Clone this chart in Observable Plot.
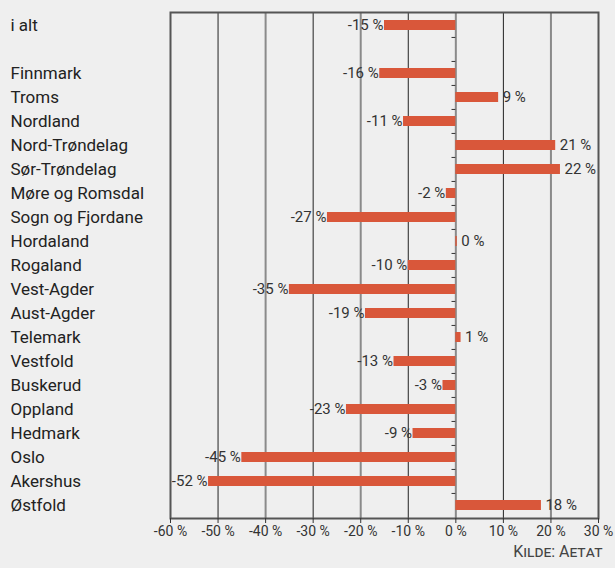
<!DOCTYPE html>
<html>
<head>
<meta charset="utf-8">
<script src="https://cdn.jsdelivr.net/npm/d3@7"></script>
<script src="https://cdn.jsdelivr.net/npm/@observablehq/plot@0.6"></script>
<style>
  html, body { margin: 0; padding: 0; background: #efefef; }
  #chart { width: 615px; height: 568px; }
</style>
</head>
<body>
<div id="chart"></div>
<script>
const rows = ["i alt", " ", "Finnmark", "Troms", "Nordland", "Nord-Trøndelag", "Sør-Trøndelag",
  "Møre og Romsdal", "Sogn og Fjordane", "Hordaland", "Rogaland", "Vest-Agder", "Aust-Agder",
  "Telemark", "Vestfold", "Buskerud", "Oppland", "Hedmark", "Oslo", "Akershus", "Østfold"];
const names = ["i alt", "Finnmark", "Troms", "Nordland", "Nord-Trøndelag", "Sør-Trøndelag",
  "Møre og Romsdal", "Sogn og Fjordane", "Hordaland", "Rogaland", "Vest-Agder", "Aust-Agder",
  "Telemark", "Vestfold", "Buskerud", "Oppland", "Hedmark", "Oslo", "Akershus", "Østfold"];
const values = [-15, -16, 9, -11, 21, 22, -2, -27, 0.3, -10, -35, -19, 1.1, -13, -2.7, -23, -9, -45, -52, 18];
const xTicks = [-60, -50, -40, -30, -20, -10, 0, 10, 20, 30];
const darkGrid = [-50, -30, -10, 10];
const greyGrid = [-40, -20, 0, 20];
const source = "Kilde: Aetat";

const data = names.map((name, i) => ({name, value: values[i]}));
const fmt = v => `${Math.round(v)} %`;

const chart = Plot.plot({
  width: 615,
  height: 568,
  marginLeft: 170,
  marginRight: 17,
  marginTop: 12,
  marginBottom: 50,
  style: {background: "#efefef", fontFamily: "Roboto", color: "#333"},
  x: {domain: [-60, 30], label: null},
  y: {domain: rows, paddingInner: 0.58, paddingOuter: 0.29, axis: null},
  marks: [
    Plot.ruleX(darkGrid, {stroke: "#222", strokeWidth: 1}),
    Plot.ruleX(greyGrid, {stroke: "#8a8a8a", strokeWidth: 2}),
    Plot.frame({stroke: "#555", strokeWidth: 2}),
    Plot.barX(data, {x: "value", y: "name", fill: "#d9573a"}),
    Plot.ruleY(rows.slice(1), {y: d => d, x1: -0.8, x2: 0, dy: -12.05, stroke: "#333", strokeWidth: 1}),
    Plot.axisX({ticks: xTicks, tickFormat: d => `${d} %`, tickSize: 5, tickPadding: 3,
      fontSize: 14, stroke: "#333", fill: "#333", label: null}),
    Plot.text(rows, {y: d => d, text: d => d, frameAnchor: "left", textAnchor: "start",
      dx: -160, fontSize: 17, fill: "#222"}),
    Plot.text(data.filter(d => d.value < 0), {x: "value", y: "name", text: d => fmt(d.value),
      textAnchor: "end", dx: -1, fontSize: 15, fill: "#333"}),
    Plot.text(data.filter(d => d.value >= 0), {x: "value", y: "name", text: d => fmt(d.value),
      textAnchor: "start", dx: 4, fontSize: 15, fill: "#333"}),
    Plot.text([source], {text: d => d, frameAnchor: "bottom-right", textAnchor: "end",
      dx: 4, dy: 38, fontSize: 16, fontVariant: "small-caps", fill: "#444"})
  ]
});
document.getElementById("chart").append(chart);
</script>
</body>
</html>
